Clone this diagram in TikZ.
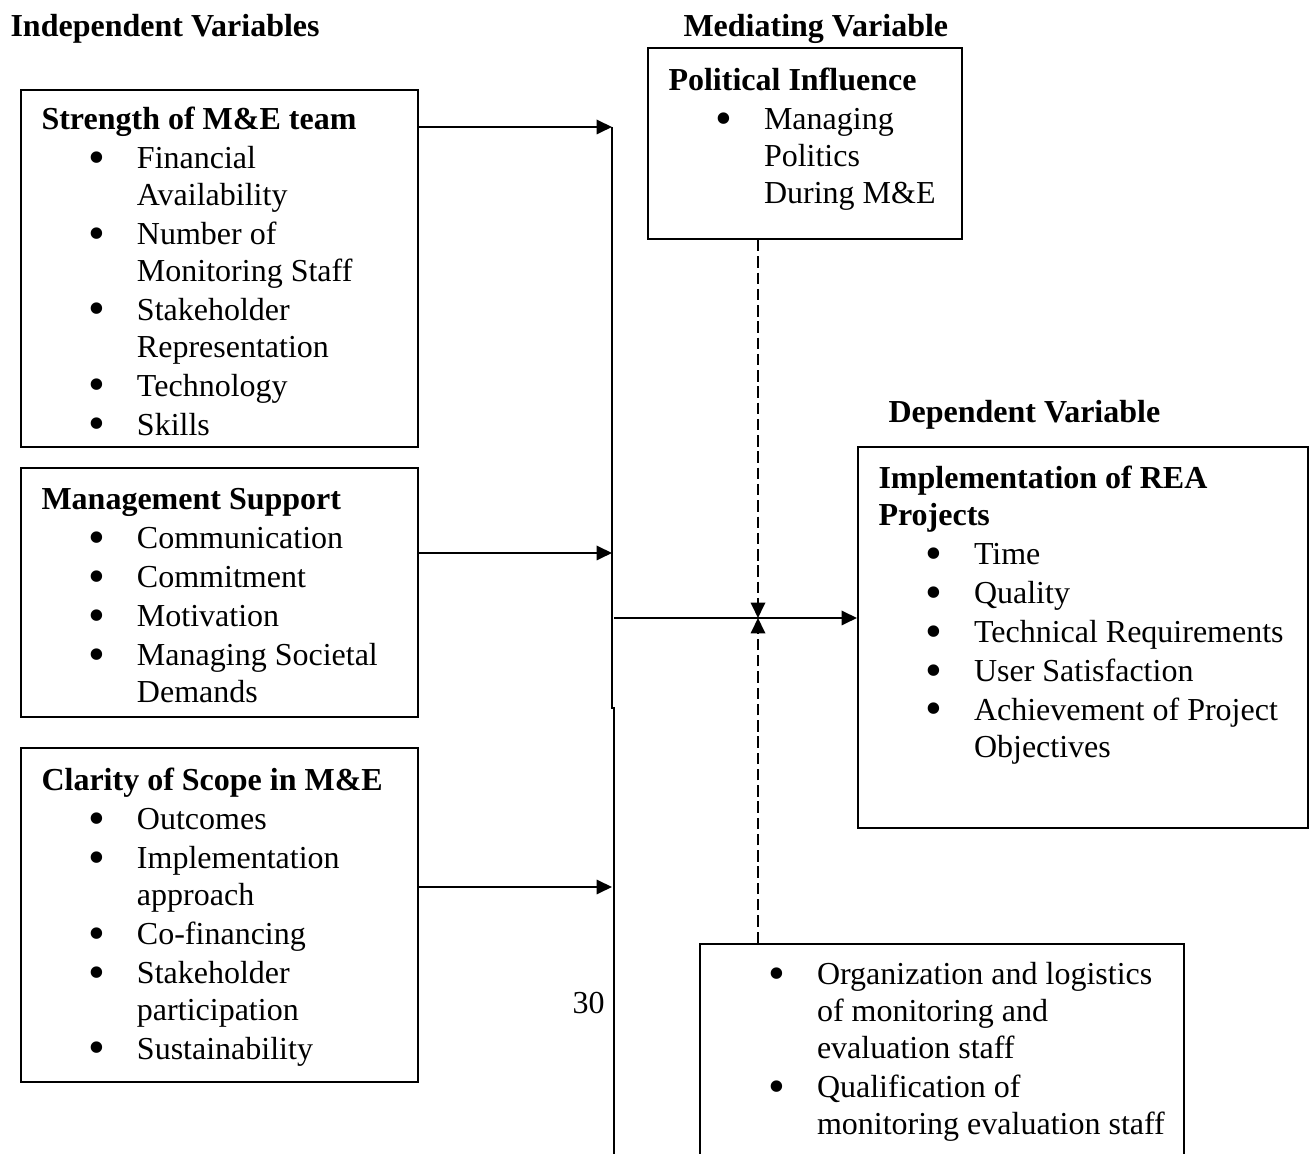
\documentclass[tikz,border=0pt]{standalone}
\usepackage{fontspec}
\setmainfont{Liberation Serif}
\usetikzlibrary{arrows.meta,fit}
\newcommand{\bigdot}{\smash{\raisebox{-1.7pt}{\scalebox{1.5}{\textbullet}}}}
\newcommand{\bul}[1]{\hspace*{17.7pt}\makebox[18.1pt][l]{\bigdot}#1}
\newcommand{\cont}[1]{\hspace*{35.8pt}#1}

\begin{document}
\begin{tikzpicture}[
    x=0.375pt, y=-0.375pt,
    frame/.style={draw, line width=0.75pt, inner sep=0pt},
    txt/.style={anchor=base west, inner sep=0pt},
    arr/.style={line width=0.8pt, -{Triangle[length=5.8pt,width=5.4pt]}},
    dasharr/.style={arr, dash pattern=on 4.3pt off 1.8pt},
    font=\fontsize{12}{13.8}\selectfont,
  ]
  \useasboundingbox (0,0) rectangle (1316,1154);
  % column headings
  \node[txt] (indephead) at (10,37) {\textbf{Independent Variables}};
  \node[txt] (medhead) at (683,37) {\textbf{Mediating Variable}};
  \node[txt] (dephead) at (888,423) {\textbf{Dependent Variable}};
  % frames
  \node[frame, fit={(21,90) (418,447)}] (strength) {};
  \node[frame, fit={(21,468) (418,717)}] (support) {};
  \node[frame, fit={(21,748) (418,1082)}] (scope) {};
  \node[frame, fit={(648,48) (962,239)}] (political) {};
  \node[frame, fit={(858,447) (1308,828)}] (implement) {};
  \node[frame, fit={(700,944) (1184,1170)}] (staffing) {};
  % box texts
  \node[txt] (strengthtxt) at (41,130) {%
    \begin{tabular}[t]{@{}l@{}}
      \textbf{Strength of M\&E team} \\[.8pt]
      \bul{Financial} \\ \cont{Availability} \\[.8pt]
      \bul{Number of} \\ \cont{Monitoring Staff} \\[.8pt]
      \bul{Stakeholder} \\ \cont{Representation} \\[.8pt]
      \bul{Technology} \\[.8pt]
      \bul{Skills}
    \end{tabular}%
  };
  \node[txt] (supporttxt) at (41,510) {%
    \begin{tabular}[t]{@{}l@{}}
      \textbf{Management Support} \\[.8pt]
      \bul{Communication} \\[.8pt]
      \bul{Commitment} \\[.8pt]
      \bul{Motivation} \\[.8pt]
      \bul{Managing Societal} \\ \cont{Demands}
    \end{tabular}%
  };
  \node[txt] (scopetxt) at (41,791) {%
    \begin{tabular}[t]{@{}l@{}}
      \textbf{Clarity of Scope in M\&E} \\[.8pt]
      \bul{Outcomes} \\[.8pt]
      \bul{Implementation} \\ \cont{approach} \\[.8pt]
      \bul{Co-financing} \\[.8pt]
      \bul{Stakeholder} \\ \cont{participation} \\[.8pt]
      \bul{Sustainability}
    \end{tabular}%
  };
  \node[txt] (politicaltxt) at (668,91) {%
    \begin{tabular}[t]{@{}l@{}}
      \textbf{Political Influence} \\[.8pt]
      \bul{Managing} \\ \cont{Politics} \\ \cont{During M\&E}
    \end{tabular}%
  };
  \node[txt] (implementtxt) at (878,489) {%
    \begin{tabular}[t]{@{}l@{}}
      \textbf{Implementation of REA} \\ \textbf{Projects} \\[.8pt]
      \bul{Time} \\[.8pt]
      \bul{Quality} \\[.8pt]
      \bul{Technical Requirements} \\[.8pt]
      \bul{User Satisfaction} \\[.8pt]
      \bul{Achievement of Project} \\ \cont{Objectives}
    \end{tabular}%
  };
  \node[txt] (staffingtxt) at (721,985) {%
    \begin{tabular}[t]{@{}l@{}}
      \bul{Organization and logistics} \\ \cont{of monitoring and} \\
      \cont{evaluation staff} \\[.8pt]
      \bul{Qualification of} \\ \cont{monitoring evaluation staff}
    \end{tabular}%
  };
  \node[txt] (pagenum) at (572,1014) {30};
  % collecting bar and connectors
  \coordinate (bartop) at (612,127);
  \coordinate (barjog) at (612,708);
  \coordinate (barlow) at (614,708);
  \coordinate (barend) at (614,1160);
  \coordinate (in2) at (612,553);
  \coordinate (in3) at (612,887);
  \coordinate (barout) at (614,618);
  \coordinate (meet) at (758,618);
  \draw[line width=0.75pt] (bartop) -- (barjog) -- (barlow) -- (barend);
  \draw[arr] (strength.east |- bartop) -- (bartop);
  \draw[arr] (support.east |- in2) -- (in2);
  \draw[arr] (scope.east |- in3) -- (in3);
  \draw[arr] (barout) -- (implement.west |- meet);
  \draw[dasharr] (political.south -| meet) -- (meet);
  \draw[dasharr] (staffing.north -| meet) -- (meet);
\end{tikzpicture}
\end{document}
